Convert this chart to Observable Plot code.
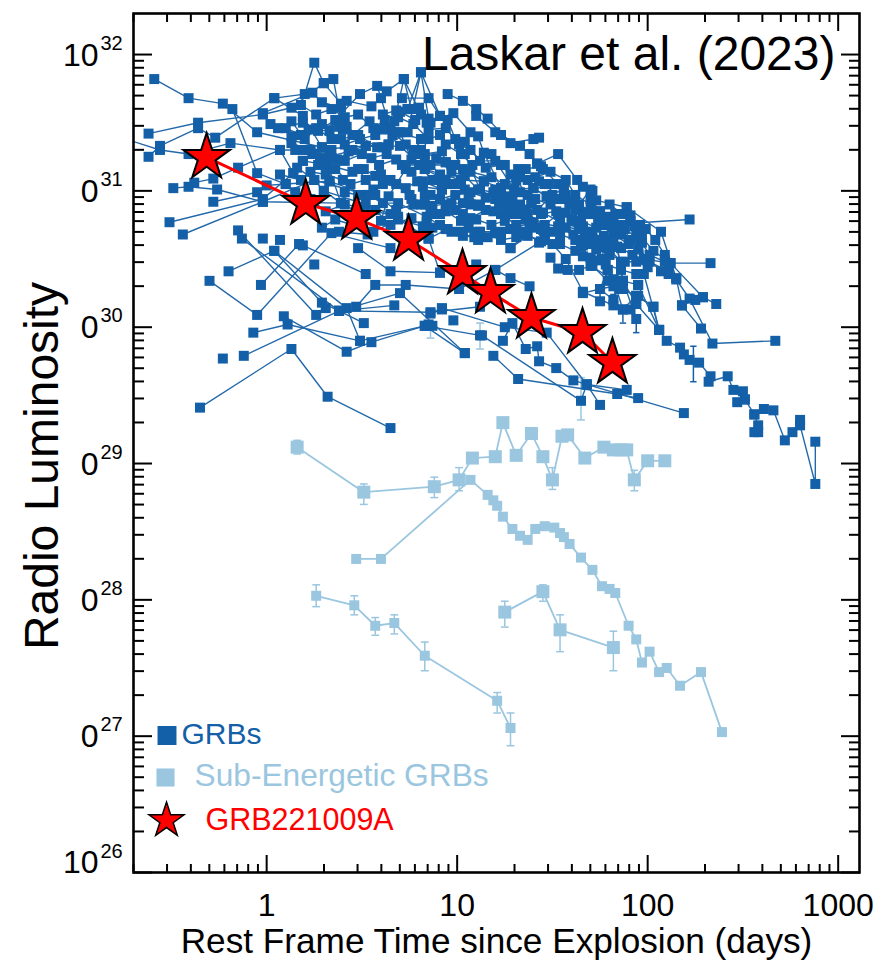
<!DOCTYPE html>
<html>
<head>
<meta charset="utf-8">
<style>html,body{margin:0;padding:0;background:#fff}svg{display:block}</style>
<script src="https://cdn.jsdelivr.net/npm/d3@7"></script>
<script src="https://cdn.jsdelivr.net/npm/@observablehq/plot@0.6"></script>
</head>
<body>
<div id="chart"></div>
<script>
// every pair: [log10(days), log10(luminosity)]
const grbTracks = [
[[-0.59,31.82],[-0.41,31.68],[-0.23,31.64],[-0.05,31.43],[0.29,31.32]],
[[-0.18,31.60],[-0.05,31.13],[0.10,31.05]],
[[-0.62,31.42],[-0.36,31.50],[-0.02,31.56],[0.13,31.61],[0.30,31.79]],
[[-0.62,31.25],[-0.56,31.33],[-0.36,31.46],[-0.27,31.39],[0.04,31.68],[0.20,31.71],[0.25,31.94],[0.30,31.79],[0.39,31.64]],
[[-0.74,31.38],[-0.56,31.30],[-0.41,31.27],[-0.19,31.35],[0.07,31.30],[0.23,31.30],[0.64,31.34]],
[[-0.49,31.02],[-0.41,31.03],[-0.26,31.01],[-0.02,30.92],[0.39,30.91],[0.69,30.81]],
[[-0.38,31.06],[-0.28,31.09],[-0.15,31.17],[0.07,31.30]],
[[-0.28,30.92],[-0.05,30.99],[0.00,31.04],[0.10,31.05],[0.33,31.07]],
[[-0.51,30.77],[-0.02,30.94],[0.14,31.13],[0.19,31.22]],
[[-0.44,30.68],[-0.02,30.92],[0.25,31.08],[0.53,30.97]],
[[-0.30,30.34],[-0.05,30.09],[0.34,30.69],[0.65,30.58]],
[[-0.20,30.41],[0.04,30.56],[0.29,30.18],[0.38,30.12],[0.67,30.16]],
[[0.04,30.56],[0.42,30.14],[0.49,29.90]],
[[-0.03,30.31],[0.17,30.61],[0.19,30.60],[0.52,30.39]],
[[-0.15,30.71],[0.26,30.09]],
[[-0.13,30.65],[0.38,30.12],[0.51,30.03]],
[[-0.07,29.96],[0.11,30.02],[0.49,29.90],[0.83,30.01],[1.12,29.94]],
[[0.09,30.08],[0.42,29.82],[0.55,29.89],[0.83,30.01],[1.04,29.81]],
[[-0.12,29.79],[0.38,30.12],[0.70,30.25],[1.04,29.81]],
[[-0.35,29.41],[0.13,29.84],[0.32,29.49],[0.65,29.26]],
[[0.47,30.15],[0.57,30.31],[0.73,30.31],[1.01,30.28],[1.20,30.42],[1.43,30.62]],
[[0.38,30.12],[0.86,30.11],[1.12,30.15]],
[[0.48,30.58],[0.65,30.41],[0.91,30.40],[1.10,30.46]],
[[0.86,30.10],[0.92,30.14],[1.25,30.00],[1.47,29.96],[1.68,29.58],[1.75,29.43]],
[[1.13,29.94],[1.65,29.46],[1.68,29.58],[2.19,29.37]],
[[1.19,29.79],[1.32,29.62],[1.84,29.51],[1.95,29.48]],
[[1.24,29.90],[1.29,30.03],[1.36,29.84],[1.42,29.86],[1.43,29.75],[1.52,29.70],[1.61,29.61],[1.68,29.58],[1.89,29.54]],
[[0.04,31.68],[0.19,31.55],[0.29,31.32],[0.39,30.91]],
[[0.02,31.49],[0.06,31.46],[0.19,31.50],[0.27,31.44],[0.36,31.52],[0.49,31.71],[0.58,31.77],[0.66,31.41],[0.69,31.43],[0.81,31.38]],
[[-0.02,31.57],[0.24,31.72],[0.29,31.65],[0.39,31.61],[0.42,31.47],[0.48,31.41],[0.58,31.32],[0.70,31.33],[0.83,31.16],[1.02,31.08]],
[[0.13,31.40],[0.22,31.45],[0.33,31.44],[0.42,31.66],[0.55,31.62],[0.60,31.68],[0.63,31.73],[0.72,31.82],[0.81,31.56]],
[[0.13,31.35],[0.23,31.30],[0.33,31.25],[0.43,31.29],[0.52,31.33],[0.64,31.34],[0.74,31.43],[0.81,31.87],[0.85,31.53]],
[[0.95,31.71],[1.03,31.66],[1.10,31.60],[1.16,31.53],[1.28,31.35],[1.40,31.38],[1.43,31.39]],
[[0.07,31.30],[0.14,31.13],[0.16,31.17],[0.25,31.08],[0.30,31.00],[0.39,30.91]],
[[0.19,31.22],[0.32,31.19],[0.45,31.14],[0.51,31.16],[0.57,31.11],[0.61,31.05],[0.73,31.02],[0.79,31.07],[0.82,31.03],[0.92,31.01]],
[[0.33,31.07],[0.53,30.97],[0.61,30.91],[0.69,30.91],[0.84,30.81],[0.94,30.72],[1.03,30.67],[1.16,30.66]],
[[0.61,31.56],[0.68,31.59],[0.74,31.60],[0.80,31.61],[0.84,31.50],[0.83,31.27],[0.92,31.29],[0.94,31.21],[1.03,31.16],[1.14,31.07]],
[[0.71,31.68],[0.85,31.68],[0.91,31.55],[0.95,31.52],[0.99,31.38],[1.04,31.36],[1.12,31.22],[1.20,31.22],[1.30,31.01],[1.40,31.02],[1.47,30.96]],
[[0.77,31.30],[0.82,31.38],[0.86,31.50],[0.98,31.57],[1.07,31.43],[1.11,31.40],[1.14,31.28],[1.23,31.02],[1.30,30.86],[1.39,30.91],[1.45,30.84]],
[[1.10,31.55],[1.20,31.43],[1.23,31.41],[1.33,31.33],[1.38,31.27],[1.42,31.20],[1.45,31.16],[1.53,31.05],[1.59,30.91],[1.66,30.74],[1.66,30.60],[1.78,30.59]],
[[1.32,31.16],[1.37,31.08],[1.43,31.07],[1.48,31.05],[1.56,31.01],[1.66,30.84],[1.75,30.85],[1.79,30.81],[1.82,30.74],[1.84,30.59],[1.87,30.34],[1.94,30.06]],
[[1.42,31.20],[1.53,31.27],[1.63,31.08],[1.66,31.03],[1.71,31.00],[1.73,30.93],[1.89,30.88],[2.07,30.70],[2.15,30.36],[2.18,30.16],[2.28,29.99]],
[[1.77,30.75],[2.22,30.79]],
[[1.89,30.88],[1.91,30.82],[1.94,30.68],[1.97,30.66],[2.03,30.56],[2.12,30.47],[2.29,30.22],[2.36,30.17]],
[[1.93,30.74],[1.97,30.62],[1.98,30.50],[2.12,30.47],[2.33,30.47]],
[[1.95,30.57],[2.07,30.41],[2.11,30.39],[2.15,30.35],[2.22,30.21],[2.34,29.88],[2.67,29.90]],
[[1.98,30.39],[2.06,29.98]],
[[1.95,30.31],[2.06,29.98],[2.10,29.90],[2.17,29.85],[2.19,29.80],[2.22,29.76],[2.27,29.74],[2.33,29.64],[2.32,29.60],[2.42,29.64],[2.45,29.54],[2.50,29.53],[2.51,29.47],[2.56,29.36],[2.61,29.40],[2.66,29.39],[2.72,29.17],[2.76,29.23],[2.80,29.32],[2.80,29.28],[2.88,28.85],[2.88,29.16]],
[[2.47,29.45],[2.51,29.47]],
[[2.56,29.36],[2.58,29.28],[2.56,29.23],[2.58,29.23]],
[[1.66,30.52],[1.76,30.50],[1.79,30.42],[1.75,30.28],[1.82,30.20],[1.87,30.13],[1.94,30.23],[1.94,30.17]],
[[1.49,30.51],[1.53,30.43],[1.58,30.42],[1.64,30.42],[1.70,30.45],[1.82,30.35],[1.87,30.34],[1.95,30.31]],
[[1.28,30.58],[1.37,30.67],[1.50,30.61],[1.57,30.50],[1.66,30.26],[1.82,30.16]],
[[1.28,30.72],[1.44,30.63],[1.54,30.77],[1.65,30.59],[1.71,30.45],[1.79,30.34],[1.85,30.28],[1.95,30.23],[2.03,30.15],[2.06,29.98]],
[[0.87,30.89],[0.97,30.91],[1.03,30.91],[1.11,30.89],[1.19,30.85],[1.30,30.86],[1.39,30.91],[1.45,30.84],[1.54,30.77],[1.66,30.72]],
[[0.82,31.07],[0.92,31.01],[1.02,31.08],[1.14,31.07],[1.23,31.02],[1.30,31.01],[1.40,31.02],[1.47,30.96],[1.56,31.01],[1.59,30.91],[1.66,30.84],[1.74,30.79]],
[[0.85,31.19],[0.97,31.19],[1.04,31.27],[1.12,31.01],[1.20,30.94],[1.28,30.83],[1.36,30.79],[1.46,30.68]],
[[0.84,30.77],[0.94,30.72],[1.09,30.66],[1.20,30.69],[1.28,30.72],[1.40,30.77],[1.53,30.74],[1.64,30.72],[1.70,30.67],[1.77,30.67],[1.82,30.74]],
[[1.20,30.69],[1.28,30.58],[1.36,30.68]],
[[0.29,30.73],[0.36,30.79],[0.56,30.70],[0.69,30.79],[0.82,30.74],[0.85,30.65],[0.95,30.72],[1.11,30.64]],
[[0.38,30.70],[0.53,30.68],[0.60,30.78],[0.64,30.96],[0.73,31.16],[0.83,31.16],[0.94,31.08]],
[[0.30,31.00],[0.52,30.90],[0.65,30.83],[0.85,30.65],[0.91,30.40]],
[[0.39,31.38],[0.48,31.41],[0.52,31.33],[0.61,31.32],[0.70,31.43],[0.76,31.23],[0.86,31.19],[0.94,31.21]],
[[0.67,31.51],[0.72,31.82],[0.76,31.60]],
[[0.74,31.60],[0.81,31.87],[0.91,31.55]],
[[0.35,31.82],[0.40,31.45]],
[[1.20,30.42],[1.28,30.36],[1.38,30.30]],
[[2.18,30.16],[2.25,30.20],[2.29,30.22]],
[[0.81,31.30],[0.89,31.24],[0.97,31.14],[1.04,31.11],[1.11,31.01],[1.19,30.99],[1.25,30.96],[1.33,30.99],[1.41,30.94],[1.49,30.90],[1.57,30.84],[1.65,30.78],[1.73,30.73]],
[[0.83,30.97],[0.91,30.94],[0.99,30.97],[1.07,30.99],[1.15,30.95],[1.22,30.90],[1.29,30.94],[1.36,30.86],[1.44,30.83],[1.52,30.85],[1.60,30.79],[1.67,30.70],[1.75,30.64],[1.83,30.70]],
[[0.86,30.83],[0.94,30.85],[1.02,30.78],[1.10,30.79],[1.18,30.75],[1.25,30.78],[1.33,30.83],[1.41,30.73],[1.49,30.70],[1.57,30.73],[1.65,30.64],[1.73,30.57],[1.80,30.53],[1.88,30.48]],
[[0.87,30.73],[0.97,30.70],[1.06,30.73],[1.12,30.70],[1.23,30.64],[1.31,30.66],[1.38,30.75],[1.46,30.64],[1.54,30.61],[1.62,30.56],[1.70,30.51],[1.78,30.46],[1.86,30.42],[1.94,30.39]],
[[0.85,31.45],[0.94,31.46],[1.01,31.34],[1.07,31.30],[1.15,31.17],[1.23,31.19],[1.28,31.12],[1.36,31.16],[1.44,31.18]],
[[0.99,31.19],[1.07,31.14],[1.18,31.10],[1.25,31.05],[1.33,31.10],[1.41,31.10],[1.49,31.14],[1.57,31.08],[1.62,30.97],[1.70,30.90],[1.78,30.78],[1.86,30.68]],
[[0.10,31.46],[0.18,31.41],[0.26,31.46],[0.34,31.38],[0.41,31.34],[0.49,31.38],[0.57,31.41],[0.65,31.45],[0.73,31.34],[0.81,31.27]],
[[0.15,31.30],[0.24,31.27],[0.34,31.30],[0.41,31.22],[0.50,31.27],[0.59,31.19],[0.68,31.23],[0.76,31.14],[0.83,31.23],[0.91,31.12]],
[[0.07,31.12],[0.18,31.08],[0.27,31.19],[0.36,31.16],[0.44,31.05],[0.52,31.08],[0.60,31.12],[0.68,31.05],[0.76,30.94],[0.83,30.90]],
[[0.15,30.99],[0.23,30.94],[0.31,30.85],[0.41,30.90],[0.49,30.83],[0.57,30.86],[0.65,30.75],[0.76,30.80],[0.83,30.73]],
[[0.18,31.63],[0.26,31.56],[0.34,31.60],[0.41,31.54],[0.48,31.56],[0.56,31.46],[0.62,31.52],[0.70,31.58],[0.78,31.52]],
[[1.70,30.94],[1.75,30.85],[1.82,30.78],[1.88,30.72],[1.96,30.64],[2.01,30.53],[2.09,30.48]],
[[1.64,30.64],[1.71,30.70],[1.78,30.63],[1.86,30.58],[1.92,30.53],[2.01,30.48],[2.11,30.41]],
[[1.62,30.78],[1.70,30.83],[1.78,30.75],[1.86,30.75],[1.91,30.64]],
[[1.66,30.25],[1.75,30.28],[1.82,30.30],[1.87,30.28],[1.94,30.23],[2.03,30.15]],
[[1.78,30.59],[1.75,30.49],[1.79,30.42],[1.82,30.35],[1.87,30.13],[1.91,30.13]],
[[1.84,30.59],[1.87,30.34],[1.94,30.17],[2.06,29.98]],
[[0.13,31.51],[0.20,31.38],[0.29,31.49],[0.38,31.47],[0.45,31.41],[0.54,31.51],[0.60,31.45],[0.69,31.54],[0.77,31.49],[0.85,31.38],[0.91,31.41]],
[[0.20,31.30],[0.28,31.24],[0.37,31.23],[0.45,31.30],[0.55,31.24],[0.63,31.27],[0.71,31.19],[0.80,31.19],[0.87,31.08],[0.97,31.05],[1.04,31.01]],
[[0.23,31.14],[0.31,31.12],[0.40,31.08],[0.48,31.16],[0.56,31.01],[0.65,31.08],[0.75,30.97],[0.81,30.90],[0.91,30.83],[0.99,30.86],[1.07,30.90]],
[[0.41,30.99],[0.48,30.97],[0.57,30.97],[0.68,30.86],[0.77,30.90],[0.86,30.97],[0.94,30.90],[1.03,30.83]],
[[0.94,31.34],[1.02,31.27],[1.08,31.19],[1.18,31.27],[1.25,31.19],[1.31,31.08],[1.37,30.97],[1.46,31.05],[1.54,30.94],[1.62,30.86],[1.70,31.01]],
[[1.07,30.80],[1.15,30.86],[1.23,30.83],[1.31,30.75],[1.37,30.83],[1.46,30.75],[1.53,30.83],[1.61,30.68],[1.69,30.61],[1.75,30.75],[1.82,30.68],[1.90,30.61]],
[[0.91,31.08],[0.99,31.05],[1.06,30.97],[1.12,30.90],[1.20,31.01],[1.27,30.90],[1.33,30.90],[1.42,30.86],[1.50,30.97],[1.57,30.97],[1.64,30.90],[1.73,30.83],[1.80,30.90],[1.87,30.83],[1.96,30.75]],
[[0.91,30.75],[1.02,30.70],[1.11,30.70],[1.23,30.70],[1.33,30.70],[1.44,30.72],[1.54,30.68],[1.62,30.64],[1.73,30.64],[1.82,30.61]],
[[1.83,30.83],[1.91,30.78],[1.99,30.72],[2.04,30.64],[2.09,30.53]],
[[1.80,30.57],[1.86,30.48],[1.94,30.48],[2.00,30.44]]
];
// GRBs drawn as lone squares, without a connecting line
const grbSingles = [[-0.23,29.77],[0.25,30.46],[-0.02,30.65],[0.07,30.64],[0.31,30.14],[0.98,30.05],[0.87,30.01],[0.92,30.13],[0.85,30.02],[1.75,30.19]];
// [log10(days), low, high]
const grbErrors = [[1.75,30.19,30.28],[1.82,30.16,30.24],[1.87,30.03,30.13],[1.94,29.96,30.06],[2.24,29.60,29.86]];

const subTrackA = [[0.16,29.12],[0.51,28.79],[0.88,28.83],[1.01,28.88],[1.08,29.04],[1.20,29.05],[1.24,29.30],[1.31,29.06],[1.39,29.22],[1.45,29.05],[1.50,28.88],[1.55,29.20],[1.58,29.21],[1.67,29.04],[1.77,29.12],[1.82,29.10],[1.86,29.10],[1.89,29.10],[1.93,28.88],[2.00,29.02],[2.09,29.02]];
const subTrackB = [[0.47,28.30],[0.60,28.30],[1.07,28.88],[1.16,28.77],[1.19,28.73],[1.21,28.69],[1.24,28.61],[1.29,28.52],[1.33,28.47],[1.37,28.44],[1.41,28.52],[1.46,28.54],[1.51,28.53],[1.54,28.49],[1.56,28.46],[1.59,28.41],[1.65,28.31],[1.71,28.22],[1.76,28.10],[1.80,28.08],[1.83,28.05],[1.90,27.81],[1.94,27.71],[1.97,27.54],[2.01,27.62],[2.06,27.47],[2.10,27.50],[2.17,27.37],[2.28,27.47],[2.39,27.03]];
const subTrackC = [[0.26,28.03],[0.46,27.96],[0.57,27.81],[0.67,27.83],[0.83,27.59],[1.21,27.26],[1.28,27.06]];
const subTrackD = [[1.25,27.91],[1.45,28.06],[1.54,27.78],[1.82,27.65]];
const subErrors = [[0.16,29.07,29.17],[0.51,28.70,28.85],[0.88,28.75,28.90],[1.01,28.80,28.97],[1.50,28.81,28.97],[1.93,28.80,28.95],
  [0.26,27.95,28.11],[0.46,27.89,28.03],[0.57,27.74,27.87],[0.67,27.75,27.89],[0.83,27.48,27.69],[1.21,27.17,27.32],[1.28,26.93,27.17],
  [1.25,27.80,27.99],[1.45,27.99,28.11],[1.54,27.62,27.89],[1.82,27.48,27.77],
  [0.86,29.92,30.02],[1.12,29.84,30.03],[1.65,29.32,29.63]];

const starLogDays = [-0.315,0.205,0.472,0.745,1.028,1.175,1.390,1.658,1.815];
const starLogLum = [31.245,30.907,30.797,30.643,30.394,30.255,30.071,29.961,29.741];

const xMajor = [1,10,100,1000];
const xLabels = ["1","10","100","1000"];
const yExponents = [26,27,28,29,30,31,32];
const yBases = {26:"10",27:"0",28:"0",29:"0",30:"0",31:"0",32:"10"};
const mult = [2,3,4,5,6,7,8,9];
const xMinor = [0.1,1,10,100,1000].flatMap(d => mult.map(m => d*m)).filter(v => v>=0.2 && v<=1290);
const yMinor = d3.range(26,33).flatMap(e => mult.map(m => m*10**e)).filter(v => v<2e32);
const yMajor = yExponents.map(e => 10**e);

const DARK = "#1360a8", DARKLINE = "#2369aa", LIGHT = "#9ac6e0", RED = "#ff0000";
const pts = a => a.map(([t,l]) => ({t:10**t, l:10**l}));
const grbData = grbTracks.flatMap((tr,i) => pts(tr).map(d => ({...d,id:i})));
const subLines = [subTrackA,subTrackB,subTrackC,subTrackD].flatMap((tr,i) => pts(tr).map(d => ({...d,id:i})));
const errs = a => a.map(([t,lo,hi]) => ({t:10**t, lo:10**lo, hi:10**hi}));
const stars = starLogDays.map((t,i) => ({t:10**t, l:10**starLogLum[i]}));
const cap = {draw(c,s){const h=Math.sqrt(s);c.moveTo(-h,0);c.lineTo(h,0);}};
const XY = {x:"t",y:"l"};
const sq = w => w/Math.sqrt(Math.PI);

function errMarks(data,color,r){
  return [
    Plot.ruleX(data,{x:"t",y1:"lo",y2:"hi",stroke:color,strokeWidth:1.5,clip:true}),
    Plot.dot(data,{x:"t",y:"lo",symbol:cap,r,stroke:color,fill:"none",strokeWidth:1.5}),
    Plot.dot(data,{x:"t",y:"hi",symbol:cap,r,stroke:color,fill:"none",strokeWidth:1.5})
  ];
}
function axesFor(anchor,major,minor,k){
  const axis = k==="x"?Plot.axisX:Plot.axisY;
  const ml = k==="x"?17:19, nl = k==="x"?8:11;
  return [
    axis(major,{anchor,tickSize:-ml,fill:"none",label:null,strokeWidth:2}),
    axis(minor,{anchor,tickSize:-nl,fill:"none",label:null,strokeWidth:2})
  ];
}
const label = (txt,o) => Plot.text([txt],{text:d=>d,lineAnchor:"bottom",...o});

const chart = Plot.plot({
  width:881,height:960,
  marginLeft:133,marginRight:22,marginTop:13,marginBottom:88,
  style:{fontFamily:"Liberation Sans",background:"#fff",color:"#000",overflow:"visible"},
  x:{type:"log",domain:[0.2,1294],axis:null},
  y:{type:"log",domain:[1e26,2e32],axis:null},
  marks:[
    ...errMarks(errs(subErrors),LIGHT,2.2),
    Plot.line(subLines,{...XY,z:"id",stroke:LIGHT,strokeWidth:1.8}),
    Plot.dot(pts(subTrackA),{...XY,symbol:"square",r:sq(13),fill:LIGHT}),
    Plot.dot(pts(subTrackB),{...XY,symbol:"square",r:sq(10),fill:LIGHT}),
    Plot.dot(pts(subTrackC),{...XY,symbol:"square",r:sq(10),fill:LIGHT}),
    Plot.dot(pts(subTrackD),{...XY,symbol:"square",r:sq(13),fill:LIGHT}),
    ...errMarks(errs(grbErrors),DARK,1.8),
    Plot.line(grbData,{...XY,z:"id",stroke:DARKLINE,strokeWidth:1.4,clip:"frame"}),
    Plot.dot(grbData.filter(d=>d.t>=0.2),{...XY,symbol:"square",r:sq(10),fill:DARK}),
    Plot.dot(pts(grbSingles),{...XY,symbol:"square",r:sq(10),fill:DARK}),
    Plot.line(stars,{...XY,stroke:RED,strokeWidth:3}),
    Plot.dot(stars,{...XY,symbol:"star",r:14.6,fill:RED,stroke:"#000",strokeWidth:2}),
    ...axesFor("bottom",xMajor,xMinor,"x"),
    ...axesFor("top",xMajor,xMinor,"x"),
    ...axesFor("left",yMajor,yMinor,"y"),
    ...axesFor("right",yMajor,yMinor,"y"),
    Plot.frame({stroke:"#000",strokeWidth:2.6}),
    // x tick labels
    Plot.text(xMajor,{x:d=>d,text:(d,i)=>xLabels[i],frameAnchor:"bottom",lineAnchor:"bottom",dy:43,fontSize:32}),
    // y tick labels: base and raised exponent
    Plot.text(yExponents.filter(e=>e!==26),{y:e=>10**e,text:e=>yBases[e],frameAnchor:"left",textAnchor:"end",lineAnchor:"bottom",dx:-35,dy:11,fontSize:32}),
    Plot.text(yExponents.filter(e=>e!==26),{y:e=>10**e,text:e=>String(e),frameAnchor:"left",textAnchor:"start",lineAnchor:"bottom",dx:-33,dy:-5,fontSize:20}),
    Plot.text([26],{y:e=>10**e,text:e=>yBases[e],frameAnchor:"left",textAnchor:"end",lineAnchor:"bottom",dx:-35,dy:0,fontSize:32}),
    Plot.text([26],{y:e=>10**e,text:e=>String(e),frameAnchor:"left",textAnchor:"start",lineAnchor:"bottom",dx:-33,dy:-15,fontSize:20}),
    // titles
    label("Laskar et al. (2023)",{frameAnchor:"top-right",textAnchor:"end",dx:-24,dy:56,fontSize:48}),
    label("Rest Frame Time since Explosion (days)",{frameAnchor:"bottom",dy:80,fontSize:35.2}),
    label("Radio Luminosity",{frameAnchor:"left",textAnchor:"middle",rotate:-90,dx:-76,dy:23,fontSize:48}),
    // legend
    Plot.dot([0],{frameAnchor:"bottom-left",dx:33.5,dy:-137,symbol:"square",r:10.7,fill:DARK}),
    Plot.dot([0],{frameAnchor:"bottom-left",dx:32,dy:-95,symbol:"square",r:10.2,fill:LIGHT}),
    Plot.dot([0],{frameAnchor:"bottom-left",dx:33,dy:-52,symbol:"star",r:11,fill:RED,stroke:"#000",strokeWidth:1.5}),
    label("GRBs",{frameAnchor:"bottom-left",textAnchor:"start",dx:48,dy:-129,fontSize:30,fill:DARK}),
    label("Sub-Energetic GRBs",{frameAnchor:"bottom-left",textAnchor:"start",dx:61,dy:-87,fontSize:31.7,fill:LIGHT}),
    label("GRB221009A",{frameAnchor:"bottom-left",textAnchor:"start",dx:72,dy:-43,fontSize:30.5,fill:RED})
  ]
});
document.getElementById("chart").append(chart);
</script>
</body>
</html>
